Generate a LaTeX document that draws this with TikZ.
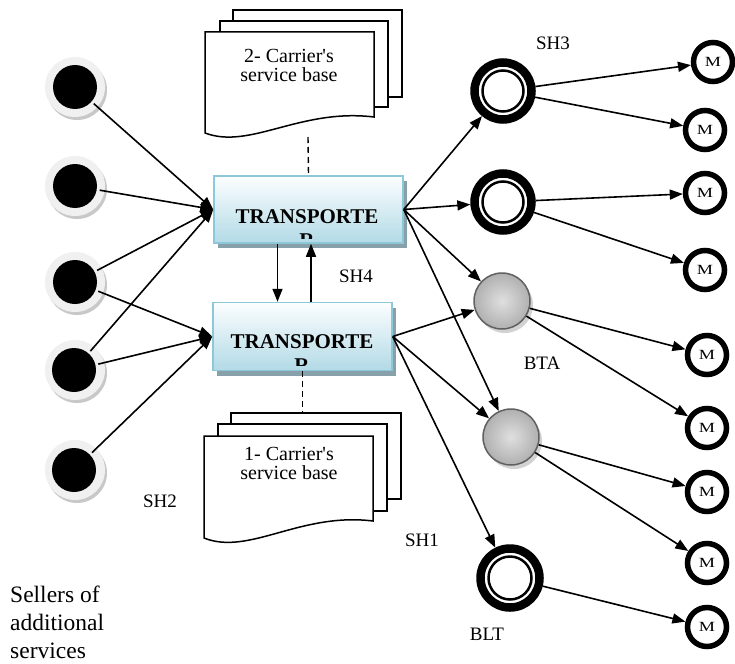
\documentclass[tikz,border=0pt]{standalone}
\usepackage{fontspec}
\setmainfont{Liberation Serif}
\usetikzlibrary{arrows.meta,shadows,calc}
\definecolor{boxtop}{RGB}{252,254,255}
\definecolor{boxbot}{RGB}{178,218,230}
\definecolor{boxline}{RGB}{140,200,215}
\definecolor{boxshadow}{RGB}{135,160,170}
\definecolor{ringlight}{RGB}{240,240,240}
\definecolor{ringdark}{RGB}{200,200,200}
\begin{document}
\begin{tikzpicture}[x=1pt,y=-1pt,
  arr/.style={line width=1.6pt,-{Triangle[length=13pt,width=10pt]}},
  dashln/.style={line width=1.4pt,dash pattern=on 6pt off 4pt},
  seller/.style={circle,fill=black,minimum size=44pt,inner sep=0pt,outer sep=3pt},
  transbox/.style={rectangle,draw=boxline,line width=1.5pt,top color=boxtop,bottom color=boxbot,
     inner sep=0pt,drop shadow={shadow xshift=4pt,shadow yshift=-5pt,fill=boxshadow,opacity=1}},
  btxt/.style={font=\bfseries\fontsize{21}{24}\selectfont,inner sep=0pt,anchor=base},
  dring/.style={circle,draw=black,line width=8.5pt,minimum size=57pt,inner sep=0pt,fill=white},
  bta/.style={circle,draw=gray!75!black,line width=1.5pt,minimum size=56pt,inner sep=0pt,
     inner color=gray!25,outer color=gray!62,
     drop shadow={shadow xshift=3pt,shadow yshift=-4pt,fill=gray!35,opacity=1}},
  mnode/.style={circle,draw=black,line width=5.5pt,minimum size=39pt,inner sep=0pt,
     font=\fontsize{14}{14}\selectfont},
  lbl/.style={font=\fontsize{19}{22}\selectfont,inner sep=0pt,anchor=base},
  doctxt/.style={font=\fontsize{20}{19}\selectfont,align=center,inner sep=0pt,anchor=north},
  sheet/.style={draw=black,line width=1.5pt,fill=white}
]
\useasboundingbox (0,0) rectangle (735,663);

% ---------- documents (top) ----------
\draw[sheet] (233,10) rectangle (402,97);
\draw[sheet] (220,21) rectangle (388,107);
\draw[sheet] (205,32) -- (374,32) -- (374,117) .. controls (300,108) and (250,150) .. (205,133) -- cycle;
\node[doctxt] (doc2txt) at (289,49) {2- Carrier\textquotesingle s\\service base};
\coordinate (d2b) at (308,137);

% ---------- documents (bottom) ----------
\draw[sheet] (231,413) rectangle (401,499);
\draw[sheet] (218,424) rectangle (387,511);
\draw[sheet] (204,436) -- (373,436) -- (373,521) .. controls (300,512) and (249,556) .. (204,538) -- cycle;
\node[doctxt] (doc1txt) at (289,447) {1- Carrier\textquotesingle s\\service base};
\coordinate (d1t) at (302,413);

% ---------- transporter boxes ----------
\node[transbox,minimum width=189pt,minimum height=67pt] (box1) at (308.5,209.5) {};
\node[transbox,minimum width=179pt,minimum height=68pt] (box2) at (302.5,336.5) {};
\node[btxt] (t1) at (307,223) {TRANSPORTE};
\begin{scope}
  \clip (214,176) rectangle (403,238);
  \node[btxt] (t1r) at (307,247) {R};
\end{scope}
\node[btxt] (t2) at (302,348) {TRANSPORTE};
\begin{scope}
  \clip (213,303) rectangle (392,365);
  \node[btxt] (t2r) at (302,372) {R};
\end{scope}

\draw[dashln] (d2b) -- (box1.north);
\draw[dashln] (box2.south) -- (box2.south |- d1t);

% vertical arrows between boxes
\draw[arr] ([xshift=-31pt]box1.south) -- ([xshift=-31pt]box1.south |- box2.north);
\draw[arr] ([xshift=8.5pt]box2.north) -- ([xshift=8.5pt]box2.north |- box1.south);

% ---------- sellers ----------
\foreach \yy in {87,186,282,370,470}{
  \fill[ringdark] (77,\yy+3) circle (30pt);
  \fill[ringlight] (75,\yy) circle (30pt);
}
\node[seller] (s1) at (75,87) {};
\node[seller] (s2) at (75,186) {};
\node[seller] (s3) at (75,282) {};
\node[seller] (s4) at (74,370) {};
\node[seller] (s5) at (74,470) {};

\foreach \s in {s1,s2,s3,s4}{ \draw[arr] (\s) -- (box1.west); }
\foreach \s in {s3,s4,s5}{ \draw[arr] (\s) -- (box2.west); }

% ---------- right side ----------
\node[dring] (sh3) at (503,91) {};
\node[dring] (ring2) at (503,202) {};
\node[dring,minimum size=59pt] (blt) at (510,578) {};
\foreach \n in {sh3,ring2}{ \draw[line width=2.5pt] (\n.center) circle (20.5pt); }
\draw[line width=2.5pt] (blt.center) circle (21.5pt);
\node[bta] (bta1) at (502,301) {};
\node[bta] (bta2) at (511,437) {};

\node[mnode] (m1) at (713,62) {\scalebox{1.3}[1]{M}};
\node[mnode] (m2) at (705,130) {\scalebox{1.3}[1]{M}};
\node[mnode] (m3) at (705,193) {\scalebox{1.3}[1]{M}};
\node[mnode] (m4) at (705,270) {\scalebox{1.3}[1]{M}};
\node[mnode] (m5) at (707,355) {\scalebox{1.3}[1]{M}};
\node[mnode] (m6) at (707,428) {\scalebox{1.3}[1]{M}};
\node[mnode] (m7) at (707,492) {\scalebox{1.3}[1]{M}};
\node[mnode] (m8) at (707,563) {\scalebox{1.3}[1]{M}};
\node[mnode] (m9) at (707,627) {\scalebox{1.3}[1]{M}};

\foreach \t in {sh3,ring2,bta1,bta2}{ \draw[arr] (box1.east) -- (\t); }
\foreach \t in {bta1,bta2,blt}{ \draw[arr] (box2.east) -- (\t); }

\draw[arr] (sh3) -- (m1);
\draw[arr] (sh3) -- (m2);
\draw[arr] (ring2) -- (m3);
\draw[arr] (ring2) -- (m4);
\draw[arr] (bta1) -- (m5);
\draw[arr] (bta1) -- (m6);
\draw[arr] (bta2) -- (m7);
\draw[arr] (bta2) -- (m8);
\draw[arr] (blt) -- (m9);

% ---------- labels ----------
\node[lbl] (lsh3) at (553,50) {SH3};
\node[lbl] (lsh4) at (356,282) {SH4};
\node[lbl] (lbta) at (542,369) {BTA};
\node[lbl] (lsh1) at (422,546) {SH1};
\node[lbl] (lblt) at (487,640) {BLT};
\node[lbl] (lsh2) at (160,507) {SH2};
\node[anchor=north west,align=left,inner sep=0pt,font=\fontsize{23.5}{28}\selectfont] (sellers) at (10,586) {Sellers of\\additional\\services};
\end{tikzpicture}
\end{document}
